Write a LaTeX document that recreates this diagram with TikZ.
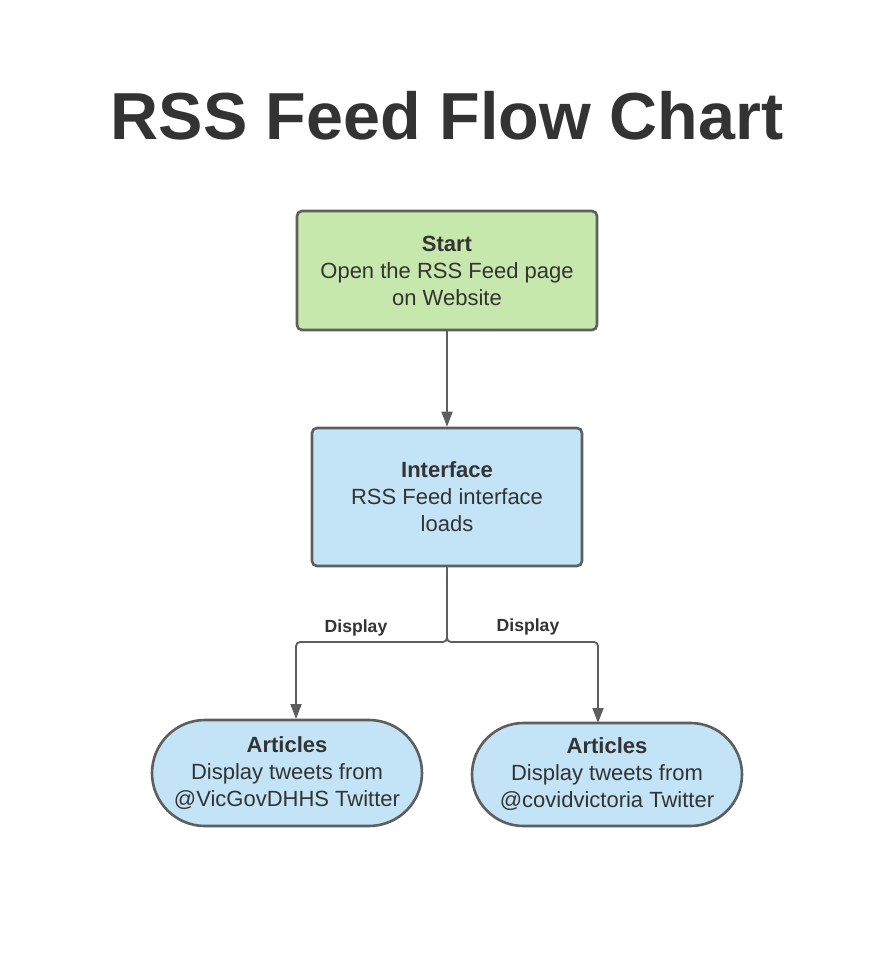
\documentclass[tikz,border=0pt]{standalone}
\usepackage{fontspec}
\setmainfont{Liberation Sans}
\usetikzlibrary{arrows.meta,shapes.misc}
\definecolor{edgegray}{HTML}{5E5E5E}
\definecolor{txt}{HTML}{333333}
\definecolor{startgreen}{HTML}{C7E8AC}
\definecolor{boxblue}{HTML}{C2E4F6}
\tikzset{
  base/.style={draw=edgegray, line width=2.6pt, text=txt, align=center,
    font=\fontsize{22}{27}\selectfont, inner sep=0pt},
  procbox/.style={base, rounded corners=5pt},
  pill/.style={base, rounded rectangle, rounded rectangle arc length=180},
  conn/.style={draw=edgegray, line width=1.8pt, rounded corners=4pt,
    -{Triangle[length=15pt,width=11pt]}},
  lbl/.style={text=txt, font=\fontsize{17.6}{20}\selectfont\bfseries, inner sep=0pt}
}
\begin{document}
\begin{tikzpicture}[x=1pt,y=-1pt]
\useasboundingbox (0,0) rectangle (876,968);
\node[text=txt, font=\fontsize{66.5}{72}\selectfont\bfseries, inner sep=0pt] (title) at (447,116) {RSS Feed Flow Chart};
\node[procbox, fill=startgreen, minimum width=300pt, minimum height=119pt] (start) at (447,270.5)
  {\textbf{Start}\\Open the RSS Feed page\\on Website};
\node[procbox, fill=boxblue, minimum width=270pt, minimum height=138pt] (iface) at (447,497)
  {\textbf{Interface}\\RSS Feed interface\\loads};
\node[pill, fill=boxblue, minimum width=270pt, minimum height=106pt] (art1) at (287,773)
  {\textbf{Articles}\\Display tweets from\\@VicGovDHHS Twitter};
\node[pill, fill=boxblue, minimum width=270pt, minimum height=103pt] (art2) at (607,774.5)
  {\textbf{Articles}\\Display tweets from\\@covidvictoria Twitter};
\coordinate (j) at (447,642);
\coordinate (t1) at (296,719);
\coordinate (t2) at (598,723);
\draw[conn] (start.south) -- (iface.north);
\draw[conn] (iface.south) -- (j) -| (t1);
\draw[conn] (iface.south) -- (j) -| (t2);
\node[lbl] (d1) at (356,628) {Display};
\node[lbl] (d2) at (528,627) {Display};
\end{tikzpicture}
\end{document}
